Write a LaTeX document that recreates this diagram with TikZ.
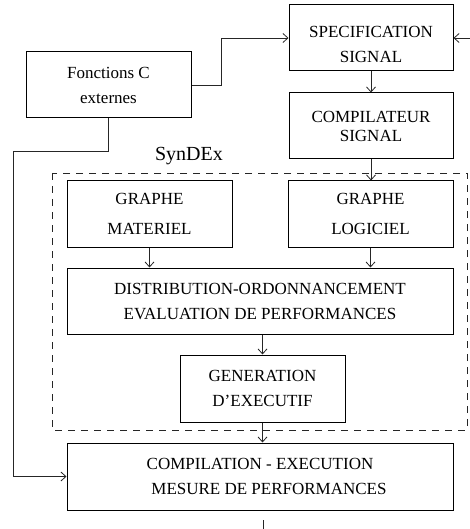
\documentclass[tikz,border=0pt]{standalone}
\usepackage{fontspec}
\setmainfont{Liberation Serif}
\usetikzlibrary{arrows.meta}
\begin{document}
\begin{tikzpicture}[x=1pt,y=-1pt,
  box/.style={draw=black,line width=1pt,rectangle,inner sep=0pt,align=center,
    font=\fontsize{17}{25}\selectfont},
  conn/.style={draw=black!85,line width=0.8pt},
  arr/.style={conn,-{Straight Barb[length=5pt,width=9pt,line width=0.8pt]}},
  dashbox/.style={draw=black!85,line width=0.9pt,dash pattern=on 7pt off 6pt}]
\useasboundingbox (0,0) rectangle (469,529);
\node[box,minimum width=164pt,minimum height=66pt,
  label={[font=\fontsize{17}{25}\selectfont,align=center,yshift=-6pt]center:SPECIFICATION\\SIGNAL}]
  (spec) at (371,38) {};
\node[box,minimum width=165pt,minimum height=66pt] (fonc) at (108.5,85) {Fonctions C\\externes};
\node[box,minimum width=164pt,minimum height=66pt] (comp) at (371,126) {COMPILATEUR\\[-6pt]SIGNAL};
\node[box,minimum width=165pt,minimum height=66pt] (mat) at (149.5,214) {GRAPHE\\[5pt]MATERIEL};
\node[box,minimum width=165pt,minimum height=66pt] (log) at (370.5,214) {GRAPHE\\[5pt]LOGICIEL};
\node[box,minimum width=386pt,minimum height=66pt] (dist) at (260,301) {DISTRIBUTION-ORDONNANCEMENT\\EVALUATION DE PERFORMANCES};
\node[box,minimum width=165pt,minimum height=67pt] (gen) at (262.5,388.5) {GENERATION\\D'EXECUTIF};
\node[box,minimum width=386pt,minimum height=67pt] (exe) at (260,476.5) {COMPILATION - EXECUTION\\\hspace*{18pt}MESURE DE PERFORMANCES};
\draw[dashbox] (52,173) rectangle (467,430);
\node[font=\fontsize{20}{24}\selectfont,inner sep=0pt,anchor=base] (syn) at (189,161) {SynDEx};
\coordinate (rin) at (470,38);
\coordinate (c1) at (13,151);
\coordinate (b1) at (263,520);
\coordinate (b2) at (263,530);
\draw[arr] (fonc.east) -- ++(30,0) |- (spec.west);
\draw[arr] (rin) -- (spec.east);
\draw[arr] (spec.south) -- (comp.north);
\draw[arr] (comp.south) -- (comp.south |- log.north);
\draw[arr] (mat.south) -- (mat.south |- dist.north);
\draw[arr] (log.south) -- (log.south |- dist.north);
\draw[arr] (gen.north |- dist.south) -- (gen.north);
\draw[arr] (gen.south) -- (gen.south |- exe.north);
\draw[arr] (fonc.south) |- (c1) |- (exe.west);
\draw[conn] (b1) -- (b2);
\end{tikzpicture}
\end{document}
